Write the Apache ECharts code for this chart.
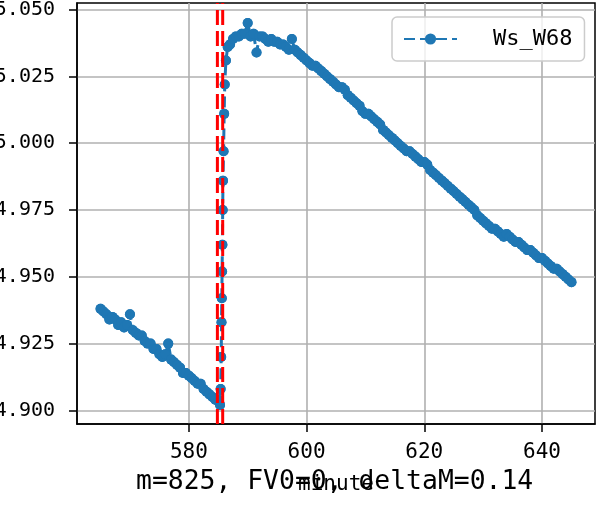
<!DOCTYPE html>
<html>
<head>
<meta charset="utf-8">
<script src="https://cdn.jsdelivr.net/npm/echarts@6/dist/echarts.min.js"></script>
<style>
  html, body { margin: 0; padding: 0; background: #fff; }
  #chart { width: 604px; height: 508px; }
</style>
</head>
<body>
<div id="chart"></div>
<script>
  // minute stamps of Ws_W68
  var minutes = [
    565, 565.5, 566, 566.5, 567, 567.5, 568, 568.5, 569, 569.5,
    570, 570.5, 571, 571.5, 572, 572.5, 573, 573.5, 574, 574.5,
    575, 575.5, 576, 576.5, 577, 577.5, 578, 578.5, 579, 579.5,
    580, 580.5, 581, 581.5, 582, 582.5, 583, 583.5, 584, 584.5,
    585, 585.15, 585.3, 585.4, 585.5, 585.55, 585.6, 585.65, 585.7, 585.75,
    585.8, 585.9, 586, 586.1, 586.3, 586.6,
    587, 587.5, 588, 588.5, 589, 589.5, 590, 590.5, 591, 591.5,
    592, 592.5, 593, 593.5, 594, 594.5, 595, 595.5, 596, 596.5,
    597, 597.5, 598, 598.5, 599, 599.5, 600, 600.5, 601, 601.5,
    602, 602.5, 603, 603.5, 604, 604.5, 605, 605.5, 606, 606.5,
    607, 607.5, 608, 608.5, 609, 609.5, 610, 610.5, 611, 611.5,
    612, 612.5, 613, 613.5, 614, 614.5, 615, 615.5, 616, 616.5,
    617, 617.5, 618, 618.5, 619, 619.5, 620, 620.5, 621, 621.5,
    622, 622.5, 623, 623.5, 624, 624.5, 625, 625.5, 626, 626.5,
    627, 627.5, 628, 628.5, 629, 629.5, 630, 630.5, 631, 631.5,
    632, 632.5, 633, 633.5, 634, 634.5, 635, 635.5, 636, 636.5,
    637, 637.5, 638, 638.5, 639, 639.5, 640, 640.5, 641, 641.5,
    642, 642.5, 643, 643.5, 644, 644.5, 645
  ]
  var wsW68 = [
    4.938, 4.937, 4.936, 4.934, 4.935, 4.934, 4.932, 4.933, 4.931, 4.932,
    4.936, 4.930, 4.929, 4.928, 4.928, 4.926, 4.925, 4.925, 4.923, 4.923,
    4.921, 4.920, 4.921, 4.925, 4.919, 4.918, 4.917, 4.916, 4.914, 4.914,
    4.913, 4.912, 4.911, 4.910, 4.910, 4.908, 4.907, 4.906, 4.905, 4.904,
    4.904, 4.903, 4.902, 4.908, 4.920, 4.933, 4.942, 4.952, 4.962, 4.975,
    4.986, 4.997, 5.011, 5.022, 5.031, 5.036,
    5.037, 5.039, 5.040, 5.040, 5.041, 5.041, 5.045, 5.040, 5.041, 5.034,
    5.040, 5.040, 5.039, 5.038, 5.039, 5.038, 5.038, 5.037, 5.037, 5.036,
    5.035, 5.039, 5.035, 5.034, 5.033, 5.032, 5.031, 5.030, 5.029, 5.029,
    5.028, 5.027, 5.026, 5.025, 5.024, 5.023, 5.022, 5.021, 5.021, 5.020,
    5.018, 5.017, 5.016, 5.015, 5.014, 5.012, 5.011, 5.011, 5.010, 5.009,
    5.008, 5.007, 5.005, 5.004, 5.003, 5.002, 5.001, 5.000, 4.999, 4.998,
    4.997, 4.997, 4.996, 4.995, 4.994, 4.993, 4.993, 4.992, 4.990, 4.989,
    4.988, 4.987, 4.986, 4.985, 4.984, 4.983, 4.982, 4.981, 4.980, 4.979,
    4.978, 4.977, 4.976, 4.975, 4.973, 4.972, 4.971, 4.970, 4.969, 4.968,
    4.968, 4.967, 4.966, 4.965, 4.966, 4.965, 4.964, 4.963, 4.963, 4.962,
    4.961, 4.960, 4.960, 4.959, 4.958, 4.957, 4.957, 4.956, 4.955, 4.954,
    4.953, 4.953, 4.952, 4.951, 4.950, 4.949, 4.948
  ]
  // red dashed vertical markers
  var markMinutes = [584.85, 585.75]
  var xTicks = [580, 600, 620, 640]
  var yTicks = [4.900, 4.925, 4.950, 4.975, 5.000, 5.025, 5.050]

  var myChart = echarts.init(document.getElementById('chart'))
  var font = 'DejaVu Sans Mono'
  var blue = '#1f77b4'
  var yMin = 4.8949
  var yMax = 5.0525

  var mainData = minutes.map(function (m, i) { return [m, wsW68[i]] })
  var series = [
    {
      name: 'Ws_W68',
      type: 'line',
      data: mainData,
      symbol: 'circle',
      symbolSize: 10,
      showSymbol: true,
      color: blue,
      lineStyle: { width: 3, type: [11, 5] },
      z: 3
    },
    {
      // dots again, so every marker is drawn
      type: 'scatter',
      data: mainData,
      symbol: 'circle',
      symbolSize: 10,
      itemStyle: { color: blue, opacity: 1 },
      silent: true,
      z: 4
    }
  ]
  markMinutes.forEach(function (m) {
    series.push({
      type: 'line',
      data: [[m, yMin], [m, yMax]],
      symbol: 'none',
      silent: true,
      lineStyle: { color: '#ff0000', width: 3, type: [15, 6] },
      z: 5
    })
  })

  var option = {
    animation: false,
    title: {
      text: 'm=825, FV0=0, deltaM=0.14',
      left: 136,
      top: 469,
      padding: 0,
      textStyle: { fontFamily: font, fontSize: 26.4, fontWeight: 'normal', color: '#000' }
    },
    legend: {
      data: ['Ws_W68'],
      left: 392,
      top: 17,
      padding: [11, 12, 11, 11],
      itemWidth: 53,
      itemHeight: 14,
      itemGap: 5,
      backgroundColor: 'rgba(255,255,255,0.8)',
      borderColor: '#cccccc',
      borderWidth: 1.5,
      borderRadius: 5,
      textStyle: { fontFamily: font, fontSize: 22, color: '#000', padding: [0, 0, 0, 31] }
    },
    grid: {
      left: 77,
      right: 9,
      top: 3,
      bottom: 84,
      outerBoundsMode: 'none',
      containLabel: false,
      show: true,
      borderColor: '#000',
      borderWidth: 1.5,
      backgroundColor: 'transparent'
    },
    xAxis: {
      type: 'value',
      min: 561,
      max: 649,
      name: 'minute',
      nameLocation: 'middle',
      nameGap: 50,
      nameTextStyle: { fontFamily: font, fontSize: 21, color: '#000' },
      axisLine: { show: true, onZero: false, lineStyle: { color: '#000', width: 1.5 } },
      axisTick: { show: true, length: 8, customValues: xTicks, lineStyle: { color: '#000', width: 1.5 } },
      axisLabel: { customValues: xTicks, margin: 18, fontFamily: font, fontSize: 21, color: '#000' },
      splitLine: { show: true, lineStyle: { color: '#b0b0b0', width: 1.6 } }
    },
    yAxis: {
      type: 'value',
      min: yMin,
      max: yMax,
      axisLine: { show: true, onZero: false, lineStyle: { color: '#000', width: 1.5 } },
      axisTick: { show: true, length: 8, customValues: yTicks, lineStyle: { color: '#000', width: 1.5 } },
      axisLabel: {
        customValues: yTicks,
        margin: 22,
        fontFamily: font,
        fontSize: 20,
        color: '#000',
        formatter: function (v) { return v.toFixed(3) }
      },
      splitLine: { show: true, lineStyle: { color: '#b0b0b0', width: 1.6 } }
    },
    series: series
  }

  myChart.setOption(option)
</script>
</body>
</html>
